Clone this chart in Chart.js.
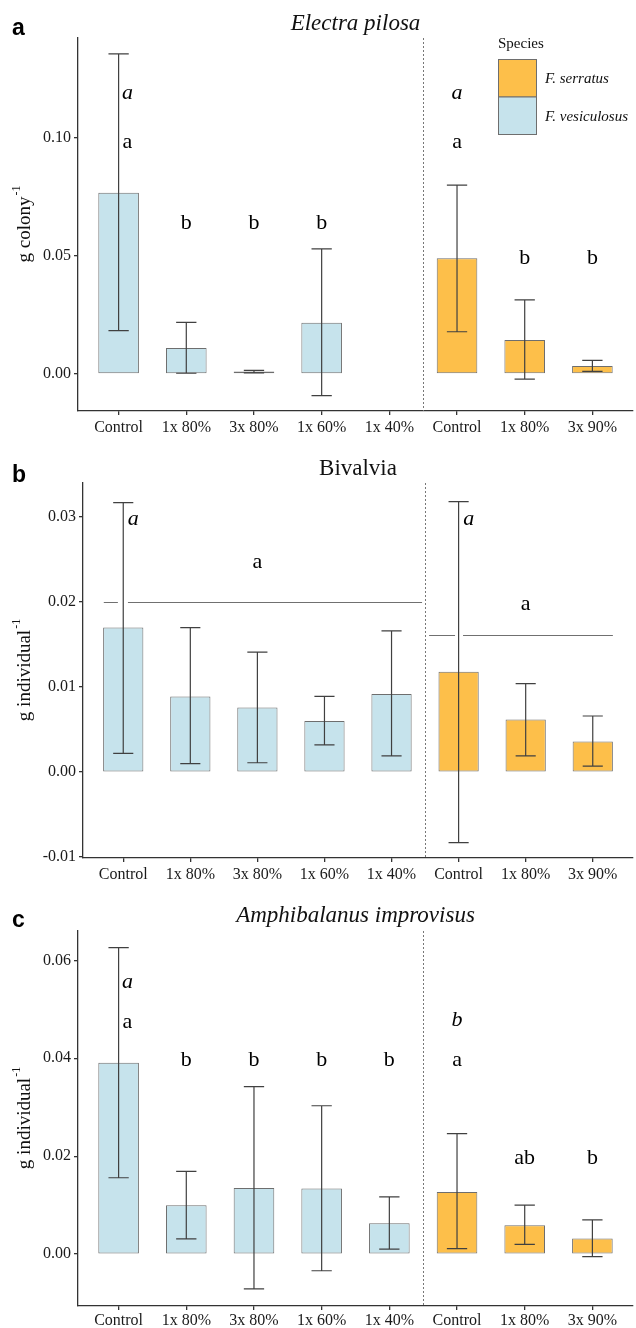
<!DOCTYPE html>
<html>
<head>
<meta charset="utf-8">
<script src="https://cdn.jsdelivr.net/npm/chart.js@4.4.1/dist/chart.umd.min.js"></script>
<style>
  html, body { margin: 0; padding: 0; background: #fff; }
  .panel { position: absolute; left: 0; width: 636px; }
</style>
</head>
<body>
<div class="panel" style="top:0;height:436px"><canvas id="chartA" width="636" height="436"></canvas></div>
<div class="panel" style="top:436px;height:444px"><canvas id="chartB" width="636" height="444"></canvas></div>
<div class="panel" style="top:880px;height:448px"><canvas id="chartC" width="636" height="448"></canvas></div>
<script>
// treatments along the x axis (first five on F. vesiculosus, last three on F. serratus)
const categories = ['Control', '1x 80%', '3x 80%', '1x 60%', '1x 40%', 'Control', '1x 80%', '3x 90%'];
const serratusIdx = [5, 6, 7];
const vesiculosusIdx = [0, 1, 2, 3, 4];

// a — Electra pilosa, g colony-1
const electraMean = [0.0768, 0.0110, 0.0010, 0.0217, null, 0.0490, 0.0144, 0.0034];
const electraLow  = [0.0184, 0.0003, 0.0005, -0.0092, null, 0.0179, -0.0022, 0.0011];
const electraHigh = [0.1357, 0.0219, 0.0015, 0.0530, null, 0.0800, 0.0314, 0.0058];
const electraTicks = [0, 0.05, 0.10];
const electraSpeciesLetters = ['a', '', '', '', '', 'a', '', ''];
const electraSpeciesY = [0.119, null, null, null, null, 0.119, null, null];
const electraTreatLetters = ['a', 'b', 'b', 'b', '', 'a', 'b', 'b'];
const electraTreatY = [0.0984, 0.064, 0.064, 0.064, null, 0.0984, 0.049, 0.049];

// b — Bivalvia, g individual-1
const bivalviaMean = [0.0170, 0.0089, 0.0076, 0.0060, 0.0092, 0.0118, 0.0062, 0.0036];
const bivalviaLow  = [0.0022, 0.0010, 0.0011, 0.0032, 0.0019, -0.0083, 0.0019, 0.0007];
const bivalviaHigh = [0.0317, 0.0170, 0.0141, 0.0089, 0.0166, 0.0318, 0.0104, 0.0066];
const bivalviaTicks = [-0.01, 0, 0.01, 0.02, 0.03];
const bivalviaSpeciesLetters = ['a', '', '', '', '', 'a', '', ''];
const bivalviaSpeciesY = [0.0297, null, null, null, null, 0.0297, null, null];
const bivalviaTreatLetters = ['', '', 'a', '', '', '', 'a', ''];
const bivalviaTreatY = [null, null, 0.0247, null, null, null, 0.0197, null];
const bivalviaGroupY = [0.0200, 0.0161];

// c — Amphibalanus improvisus, g individual-1
const amphiMean = [0.0391, 0.0100, 0.0135, 0.0134, 0.0063, 0.0127, 0.0059, 0.0032];
const amphiLow  = [0.0156, 0.0031, -0.0071, -0.0034, 0.0010, 0.0011, 0.0020, -0.0005];
const amphiHigh = [0.0626, 0.0169, 0.0342, 0.0303, 0.0117, 0.0246, 0.0100, 0.0070];
const amphiTicks = [0, 0.02, 0.04, 0.06];
const amphiSpeciesLetters = ['a', '', '', '', '', 'b', '', ''];
const amphiSpeciesY = [0.0556, null, null, null, null, 0.0478, null, null];
const amphiTreatLetters = ['a', 'b', 'b', 'b', 'b', 'a', 'ab', 'b'];
const amphiTreatY = [0.0474, 0.0396, 0.0396, 0.0396, 0.0396, 0.0396, 0.0195, 0.0195];

const SERIF = "'Liberation Serif', 'Times New Roman', serif";
const BLUE = '#c6e3ec', ORANGE = '#fdbf4a';
Chart.defaults.font.family = SERIF;
Chart.defaults.color = '#1a1a1a';

function yTitle(ctx, cx, cy, main, sup) {
  ctx.save();
  ctx.translate(cx, cy);
  ctx.rotate(-Math.PI / 2);
  ctx.font = '19px ' + SERIF;
  const w1 = ctx.measureText(main).width;
  ctx.font = '12px ' + SERIF;
  const w2 = ctx.measureText(sup).width;
  const x0 = -(w1 + w2) / 2;
  ctx.fillStyle = '#111';
  ctx.textBaseline = 'middle';
  ctx.textAlign = 'left';
  ctx.font = '19px ' + SERIF;
  ctx.fillText(main, x0, 0);
  ctx.font = '12px ' + SERIF;
  ctx.fillText(sup, x0 + w1 + 1, -8);
  ctx.restore();
}

function decor(cfg) {
  return {
    id: 'decor',
    beforeDatasetsDraw(chart) {
      const { ctx, chartArea: ca, scales: { x, y } } = chart;
      ctx.save();
      // dotted divider between the two host species
      const dx = Math.round(x.getPixelForValue(4.5)) + 0.5;
      ctx.strokeStyle = '#777';
      ctx.lineWidth = 1;
      ctx.setLineDash([2, 2]);
      ctx.beginPath();
      ctx.moveTo(dx, ca.top);
      ctx.lineTo(dx, ca.bottom);
      ctx.stroke();
      ctx.setLineDash([]);
      // horizontal group lines (panel b)
      (cfg.groupLines || []).forEach(g => {
        const py = Math.round(y.getPixelForValue(g.y)) + 0.5;
        ctx.strokeStyle = '#707070';
        ctx.beginPath();
        ctx.moveTo(x.getPixelForValue(g.from), py);
        ctx.lineTo(x.getPixelForValue(g.gap[0]), py);
        ctx.moveTo(x.getPixelForValue(g.gap[1]), py);
        ctx.lineTo(x.getPixelForValue(g.to), py);
        ctx.stroke();
      });
      ctx.restore();
    },
    afterDatasetsDraw(chart) {
      const { ctx, scales: { x, y } } = chart;
      ctx.save();
      // error bars
      ctx.strokeStyle = '#404040';
      ctx.lineWidth = 1.2;
      cfg.mean.forEach((m, i) => {
        if (m == null) return;
        const cx = x.getPixelForValue(i);
        const w = x.getPixelForValue(i + 0.15) - cx;
        const yl = y.getPixelForValue(cfg.low[i]);
        const yh = y.getPixelForValue(cfg.high[i]);
        ctx.beginPath();
        ctx.moveTo(cx, yl); ctx.lineTo(cx, yh);
        ctx.moveTo(cx - w, yl); ctx.lineTo(cx + w, yl);
        ctx.moveTo(cx - w, yh); ctx.lineTo(cx + w, yh);
        ctx.stroke();
      });
      // significance letters
      ctx.fillStyle = '#000';
      ctx.textAlign = 'center';
      ctx.textBaseline = 'middle';
      const put = (letters, ys, italic) => letters.forEach((t, i) => {
        if (!t) return;
        ctx.font = (italic ? 'italic ' : '') + '22px ' + SERIF;
        ctx.fillText(t, x.getPixelForValue(i + (cfg.shift[i] || 0)), y.getPixelForValue(ys[i]));
      });
      put(cfg.speciesLetters, cfg.speciesY, true);
      put(cfg.treatLetters, cfg.treatY, false);
      ctx.restore();
    },
    afterDraw(chart) {
      const { ctx, chartArea: ca } = chart;
      ctx.save();
      // panel title
      ctx.fillStyle = '#111';
      ctx.textAlign = 'center';
      ctx.textBaseline = 'alphabetic';
      ctx.font = (cfg.italicTitle ? 'italic ' : '') + '23px ' + SERIF;
      ctx.fillText(cfg.title, (ca.left + ca.right) / 2, cfg.titleBase);
      // panel letter
      ctx.textAlign = 'left';
      ctx.fillStyle = '#000';
      ctx.font = "bold 23px 'Liberation Sans', Arial, sans-serif";
      ctx.fillText(cfg.tag, 12, cfg.tagBase);
      ctx.restore();
      yTitle(ctx, 25, (ca.top + ca.bottom) / 2, cfg.yTitle, '-1');
      if (cfg.legend) {
        ctx.save();
        ctx.fillStyle = '#111';
        ctx.textBaseline = 'middle';
        ctx.textAlign = 'left';
        ctx.font = '15px ' + SERIF;
        ctx.fillText('Species', 498, 44);
        chart.data.datasets.forEach((ds, k) => {
          const top = 59.5 + k * 37.5;
          ctx.fillStyle = ds.backgroundColor;
          ctx.fillRect(498.5, top, 38, 37.5);
          ctx.strokeStyle = '#6e6e6e';
          ctx.lineWidth = 1;
          ctx.strokeRect(498.5, top, 38, 37.5);
          ctx.fillStyle = '#111';
          ctx.font = 'italic 15px ' + SERIF;
          ctx.fillText(ds.label, 545, top + 20);
        });
        ctx.restore();
      }
    }
  };
}

function makePanel(id, cfg) {
  const pts = idx => idx.map(i => ({ x: i, y: cfg.mean[i] })).filter(p => p.y != null);
  const barStyle = {
    borderColor: '#6e6e6e', borderWidth: 1, borderSkipped: false,
    barPercentage: 0.6, categoryPercentage: 1, grouped: false
  };
  new Chart(document.getElementById(id), {
    type: 'bar',
    data: {
      datasets: [
        Object.assign({ label: 'F. serratus', data: pts(serratusIdx), backgroundColor: ORANGE }, barStyle),
        Object.assign({ label: 'F. vesiculosus', data: pts(vesiculosusIdx), backgroundColor: BLUE }, barStyle)
      ]
    },
    options: {
      responsive: false,
      animation: false,
      layout: { padding: { top: cfg.top, right: 3, bottom: 0, left: 0 } },
      plugins: { legend: { display: false }, tooltip: { enabled: false } },
      scales: {
        x: {
          type: 'linear', min: -0.6, max: 7.6, offset: false,
          afterBuildTicks: s => { s.ticks = categories.map((c, i) => ({ value: i })); },
          afterFit: s => { s.height = cfg.xHeight; },
          ticks: {
            autoSkip: false, maxRotation: 0, padding: cfg.xPad,
            font: { size: 16 }, color: '#1a1a1a',
            callback: v => categories[v]
          },
          grid: { display: true, drawOnChartArea: false, offset: false, tickLength: 4, color: '#333', lineWidth: 1.3 },
          border: { display: true, color: '#333', width: 1.3 }
        },
        y: {
          type: 'linear', min: cfg.yMin, max: cfg.yMax,
          afterBuildTicks: s => { s.ticks = cfg.ticks.map(v => ({ value: v })); },
          afterFit: s => { s.width = cfg.left; },
          ticks: {
            padding: 3, font: { size: 16 }, color: '#1a1a1a',
            callback: v => v.toFixed(2)
          },
          grid: { display: true, drawOnChartArea: false, tickLength: 4, color: '#333', lineWidth: 1.3 },
          border: { display: true, color: '#333', width: 1.3 }
        }
      }
    },
    plugins: [decor(cfg)]
  });
}

makePanel('chartA', {
  mean: electraMean, low: electraLow, high: electraHigh, ticks: electraTicks,
  yMin: -0.0157, yMax: 0.1424, top: 38, left: 78, xHeight: 25, xPad: 3,
  speciesLetters: electraSpeciesLetters, speciesY: electraSpeciesY,
  treatLetters: electraTreatLetters, treatY: electraTreatY,
  shift: [0.13, 0, 0, 0, 0, 0, 0, 0],
  title: 'Electra pilosa', italicTitle: true, titleBase: 29.5, tag: 'a', tagBase: 34.5,
  yTitle: 'g colony', legend: true
});

makePanel('chartB', {
  mean: bivalviaMean, low: bivalviaLow, high: bivalviaHigh, ticks: bivalviaTicks,
  yMin: -0.0101, yMax: 0.034, top: 47, left: 83, xHeight: 22, xPad: 3,
  speciesLetters: bivalviaSpeciesLetters, speciesY: bivalviaSpeciesY,
  treatLetters: bivalviaTreatLetters, treatY: bivalviaTreatY,
  shift: [0.15, 0, 0, 0, 0, 0.15, 0, 0],
  groupLines: [
    { y: bivalviaGroupY[0], from: -0.29, to: 4.455, gap: [-0.08, 0.07] },
    { y: bivalviaGroupY[1], from: 4.56, to: 7.30, gap: [4.947, 5.066] }
  ],
  title: 'Bivalvia', italicTitle: false, titleBase: 39.3, tag: 'b', tagBase: 45.7,
  yTitle: 'g individual', legend: false
});

makePanel('chartC', {
  mean: amphiMean, low: amphiLow, high: amphiHigh, ticks: amphiTicks,
  yMin: -0.0106, yMax: 0.066, top: 51, left: 78, xHeight: 22, xPad: 1,
  speciesLetters: amphiSpeciesLetters, speciesY: amphiSpeciesY,
  treatLetters: amphiTreatLetters, treatY: amphiTreatY,
  shift: [0.13, 0, 0, 0, 0, 0, 0, 0],
  title: 'Amphibalanus improvisus', italicTitle: true, titleBase: 42.3, tag: 'c', tagBase: 47.3,
  yTitle: 'g individual', legend: false
});
</script>
</body>
</html>
